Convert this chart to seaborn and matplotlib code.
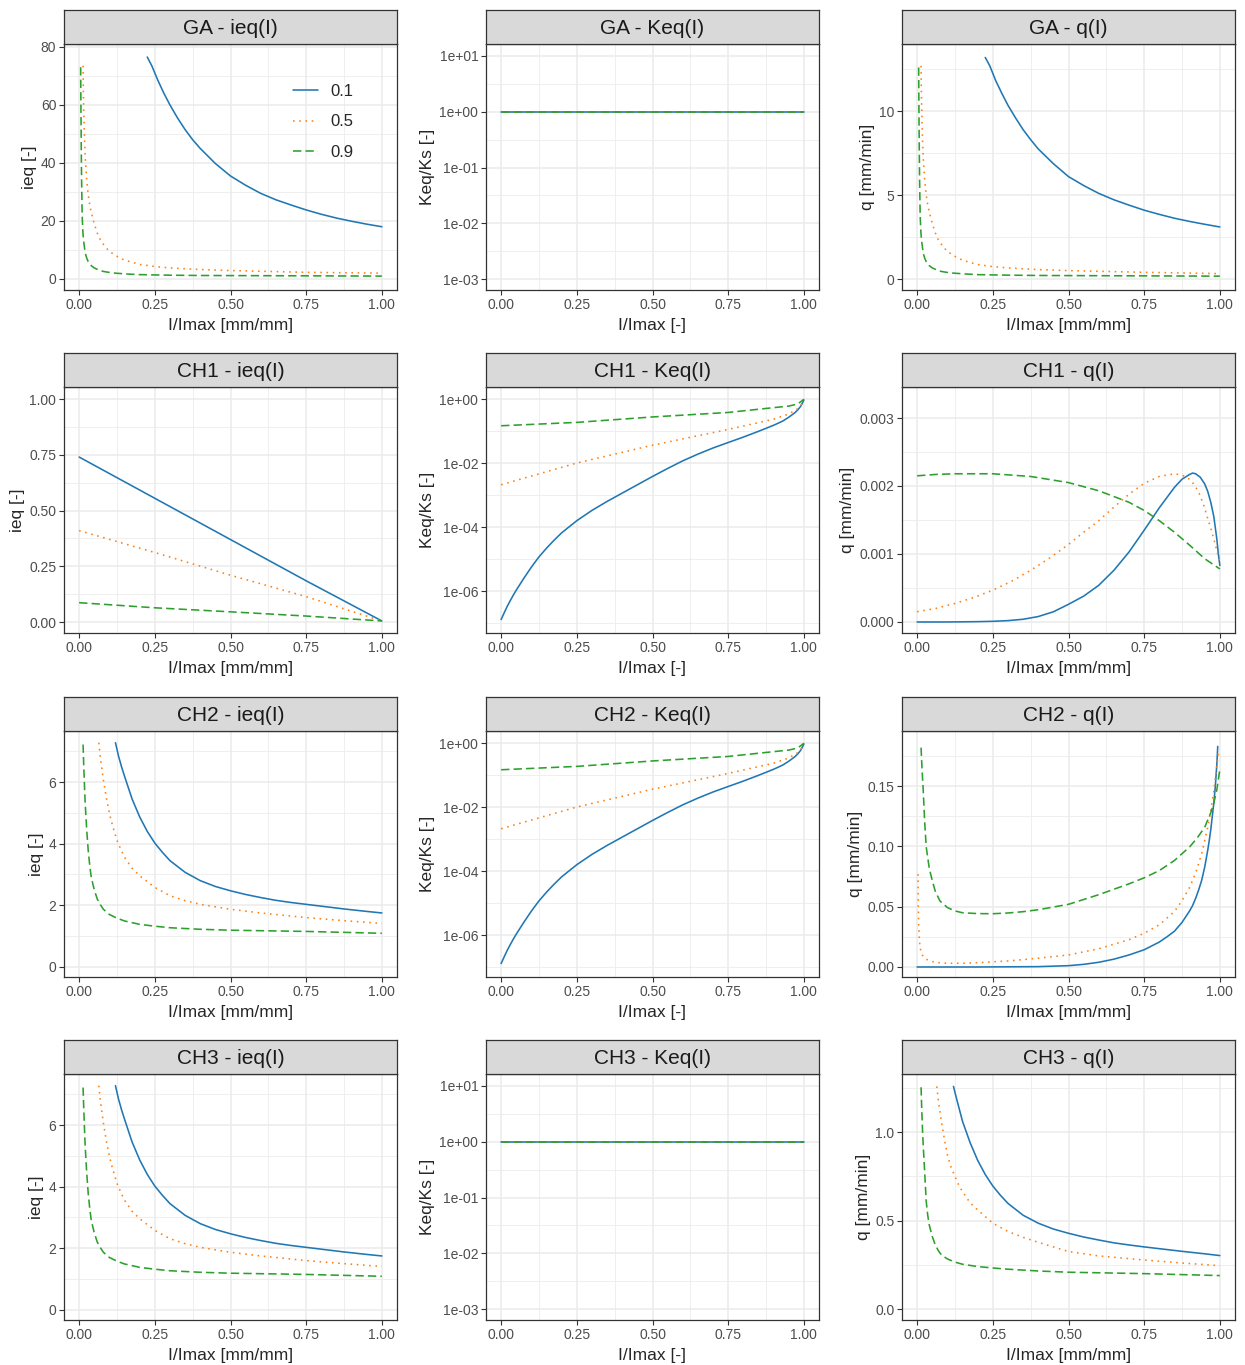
import numpy as np
import pandas as pd
import matplotlib
matplotlib.use("Agg")
import matplotlib.pyplot as plt
import seaborn as sns

sns.set_style("white")
plt.rcParams["font.family"] = ["Liberation Sans", "DejaVu Sans"]

levels = ["0.1", "0.5", "0.9"]
colors = ["#1f77b4", "#ff7f0e", "#2ca02c"]
dash_list = ["", (1, 2.9), (5.2, 2.6)]

xticks = [0.0, 0.25, 0.5, 0.75, 1.0]
xtick_labels = ["0.00", "0.25", "0.50", "0.75", "1.00"]

# GA - ieq(I)
ga_b_x = [0.225, 0.24, 0.26, 0.28, 0.3, 0.325, 0.35, 0.375, 0.4, 0.45, 0.5, 0.55, 0.6, 0.65, 0.7,
          0.75, 0.8, 0.85, 0.9, 0.95, 1.0]
ga_ieq_b_y = [76.5, 73.5, 68.5, 64, 60, 55.5, 51.5, 48, 45, 39.8, 35.5, 32.3, 29.5, 27.3, 25.5,
              23.8, 22.3, 21.0, 19.9, 18.9, 18.0]
ga_o_x = [0.013, 0.014, 0.016, 0.018, 0.02, 0.025, 0.03, 0.035, 0.04, 0.05, 0.06, 0.07, 0.085,
          0.1, 0.125, 0.15, 0.2, 0.25, 0.3, 0.4, 0.5, 0.75, 1.0]
ga_ieq_o_y = [73.5, 64, 55, 47.5, 42, 34, 29, 25.5, 23, 19, 15.8, 13.5, 11.2, 9.5, 7.8, 6.5, 5.0,
              4.3, 3.8, 3.25, 2.9, 2.3, 2.0]
ga_g_x = [0.005, 0.006, 0.007, 0.008, 0.01, 0.0125, 0.015, 0.02, 0.025, 0.03, 0.04, 0.05, 0.065,
          0.08, 0.1, 0.12, 0.16, 0.2, 0.3, 0.4, 0.7, 1.0]
ga_ieq_g_y = [73, 58, 45, 35, 22, 16, 13, 9, 7.2, 6, 4.6, 3.8, 3.1, 2.6, 2.25, 2.0, 1.7, 1.5, 1.3,
              1.2, 1.1, 1.0]

# GA / CH3 - Keq(I) (constant)
const_x = [0.0, 1.0]
const_y = [1.0, 1.0]

# GA - q(I)
ga_q_b_y = [13.2, 12.7, 11.8, 11.05, 10.35, 9.6, 8.9, 8.3, 7.75, 6.87, 6.1, 5.57, 5.1, 4.72, 4.4,
            4.1, 3.85, 3.62, 3.43, 3.26, 3.1]
ga_q_o_y = [12.7, 11.05, 9.5, 8.2, 7.25, 5.9, 5.0, 4.4, 4.0, 3.3, 2.75, 2.33, 1.94, 1.64, 1.35,
            1.12, 0.86, 0.74, 0.66, 0.56, 0.5, 0.4, 0.32]
ga_q_g_y = [12.6, 10.0, 7.8, 6.05, 3.8, 2.75, 2.25, 1.55, 1.24, 1.04, 0.8, 0.66, 0.54, 0.45, 0.39,
            0.35, 0.3, 0.26, 0.23, 0.21, 0.19, 0.17]

# CH1 - ieq(I)
ch1_ieq_x = [0.0, 0.25, 0.5, 0.75, 1.0]
ch1_ieq_b_y = [0.74, 0.555, 0.37, 0.185, 0.005]
ch1_ieq_o_y = [0.41, 0.312, 0.21, 0.114, 0.005]
ch1_ieq_g_y = [0.087, 0.064, 0.046, 0.027, 0.005]

# CH1 / CH2 - Keq(I)
keq_b_x = [0.0, 0.01, 0.02, 0.03, 0.04, 0.05, 0.075, 0.1, 0.125, 0.15, 0.175, 0.2, 0.25, 0.3, 0.35,
           0.4, 0.45, 0.5, 0.55, 0.6, 0.65, 0.7, 0.75, 0.8, 0.85, 0.9, 0.93, 0.95, 0.97, 0.98, 0.99, 1.0]
keq_b_y = [1.29e-7, 2.09e-7, 3.31e-7, 5.0e-7, 7.4e-7, 1.07e-6, 2.51e-6, 5.62e-6, 1.17e-5, 2.19e-5,
           3.89e-5, 6.61e-5, 1.58e-4, 3.31e-4, 6.31e-4, 1.15e-3, 2.09e-3, 3.8e-3, 6.76e-3, 1.17e-2,
           1.9e-2, 2.95e-2, 4.37e-2, 6.46e-2, 9.77e-2, 0.151, 0.204, 0.269, 0.37, 0.457, 0.6, 0.93]
keq_o_x = [0.0, 0.25, 0.5, 0.75, 0.9, 0.95, 0.98, 0.99, 1.0]
keq_o_y = [2.1e-3, 1.0e-2, 3.6e-2, 0.112, 0.234, 0.339, 0.50, 0.62, 0.95]
keq_g_x = [0.0, 0.25, 0.5, 0.75, 0.9, 0.95, 0.98, 1.0]
keq_g_y = [0.146, 0.186, 0.275, 0.38, 0.537, 0.60, 0.70, 0.98]

# CH1 - q(I)
ch1_q_b_x = [0.0, 0.1, 0.2, 0.25, 0.3, 0.35, 0.4, 0.45, 0.5, 0.55, 0.6, 0.65, 0.7, 0.75, 0.8, 0.85,
             0.875, 0.9, 0.91, 0.92, 0.935, 0.95, 0.96, 0.97, 0.98, 0.99, 0.995, 1.0]
ch1_q_b_y = [0.0, 0.0, 0.000005, 0.00001, 0.00002, 0.00004, 0.00008, 0.00015, 0.00026, 0.00038,
             0.00054, 0.00076, 0.00103, 0.00135, 0.00168, 0.00198, 0.0021, 0.00217, 0.00219,
             0.00218, 0.00213, 0.00203, 0.00192, 0.00176, 0.00155, 0.00122, 0.001, 0.00083]
ch1_q_o_x = [0.0, 0.0625, 0.125, 0.1875, 0.25, 0.3125, 0.375, 0.4375, 0.5, 0.55, 0.6, 0.65, 0.7,
             0.75, 0.8, 0.85, 0.875, 0.9, 0.915, 0.93, 0.945, 0.96, 0.97, 0.98, 0.99, 1.0]
ch1_q_o_y = [0.000151, 0.0002, 0.000273, 0.00036, 0.000468, 0.0006, 0.00076, 0.00094, 0.00114,
             0.00132, 0.00149, 0.00169, 0.00188, 0.00204, 0.00214, 0.00218, 0.00216, 0.0021,
             0.00202, 0.00191, 0.00174, 0.00152, 0.00138, 0.00122, 0.00105, 0.00088]
ch1_q_g_x = [0.0, 0.0625, 0.125, 0.25, 0.375, 0.5, 0.6, 0.7, 0.75, 0.8, 0.85, 0.9, 0.95, 1.0]
ch1_q_g_y = [0.00215, 0.00217, 0.00218, 0.00218, 0.00214, 0.00205, 0.00193, 0.00176, 0.00164,
             0.00149, 0.00132, 0.00113, 0.00093, 0.00078]

# CH2 / CH3 - ieq(I)
ch_b_x = [0.12, 0.13, 0.14, 0.15, 0.175, 0.2, 0.225, 0.25, 0.275, 0.3, 0.35, 0.4, 0.45, 0.5, 0.55,
          0.6, 0.65, 0.7, 0.75, 0.8, 0.875, 0.95, 1.0]
ch_ieq_b_y = [7.28, 6.85, 6.5, 6.19, 5.45, 4.87, 4.4, 4.02, 3.72, 3.45, 3.07, 2.8, 2.61, 2.47, 2.35,
              2.25, 2.16, 2.09, 2.03, 1.97, 1.88, 1.8, 1.75]
ch_o_x = [0.065, 0.07, 0.08, 0.09, 0.1, 0.11, 0.125, 0.14, 0.15, 0.175, 0.2, 0.25, 0.3, 0.35, 0.4,
          0.5, 0.6, 0.75, 0.875, 1.0]
ch_ieq_o_y = [7.28, 6.8, 6.08, 5.48, 4.98, 4.6, 4.11, 3.76, 3.56, 3.2, 2.96, 2.58, 2.31, 2.15, 2.03,
              1.87, 1.75, 1.6, 1.5, 1.41]
ch_g_x = [0.013, 0.015, 0.018, 0.02, 0.025, 0.03, 0.035, 0.04, 0.05, 0.06, 0.07, 0.08, 0.1, 0.125,
          0.15, 0.2, 0.25, 0.3, 0.4, 0.5, 0.75, 1.0]
ch_ieq_g_y = [7.22, 6.6, 5.8, 5.31, 4.45, 3.78, 3.3, 2.91, 2.5, 2.2, 2.02, 1.87, 1.7, 1.58, 1.49,
              1.38, 1.32, 1.27, 1.22, 1.19, 1.15, 1.09]

# CH2 - q(I)
ch2_q_b_x = [0.0, 0.2, 0.4, 0.5, 0.55, 0.6, 0.65, 0.7, 0.75, 0.8, 0.825, 0.85, 0.875, 0.9, 0.91,
             0.92, 0.93, 0.94, 0.95, 0.96, 0.965, 0.97, 0.975, 0.98, 0.985, 0.99, 0.993]
ch2_q_b_y = [0.0, 0.0, 0.0003, 0.0011, 0.0022, 0.0039, 0.0065, 0.010, 0.0143, 0.0207, 0.025,
             0.0297, 0.037, 0.0465, 0.051, 0.057, 0.064, 0.072, 0.083, 0.097, 0.105, 0.114, 0.125,
             0.136, 0.15, 0.168, 0.183]
ch2_q_o_x = [0.003, 0.004, 0.005, 0.0075, 0.01, 0.015, 0.02, 0.03, 0.05, 0.075, 0.1, 0.15, 0.2,
             0.3, 0.4, 0.5, 0.6, 0.7, 0.75, 0.8, 0.85, 0.875, 0.9, 0.92, 0.94, 0.95, 0.96, 0.97,
             0.98, 0.99, 0.995]
ch2_q_o_y = [0.077, 0.05, 0.035, 0.022, 0.0157, 0.011, 0.0087, 0.0064, 0.0045, 0.0035, 0.0031,
             0.0031, 0.0036, 0.005, 0.0073, 0.010, 0.0151, 0.0227, 0.028, 0.035, 0.046, 0.055,
             0.066, 0.078, 0.094, 0.105, 0.116, 0.130, 0.146, 0.167, 0.178]
ch2_q_g_x = [0.013, 0.016, 0.02, 0.025, 0.03, 0.04, 0.05, 0.06, 0.075, 0.1, 0.125, 0.15, 0.2, 0.25,
             0.3, 0.35, 0.4, 0.5, 0.6, 0.7, 0.75, 0.8, 0.85, 0.9, 0.925, 0.95, 0.97, 0.98, 0.99, 1.0]
ch2_q_g_y = [0.182, 0.165, 0.147, 0.12, 0.0996, 0.082, 0.0716, 0.0628, 0.0549, 0.0493, 0.0465,
             0.045, 0.0443, 0.0442, 0.0448, 0.0459, 0.0475, 0.052, 0.060, 0.069, 0.074, 0.080,
             0.0884, 0.0996, 0.107, 0.116, 0.128, 0.136, 0.147, 0.164]

# CH3 - q(I)
ch3_q_b_y = [1.258, 1.19, 1.125, 1.06, 0.94, 0.84, 0.76, 0.695, 0.643, 0.597, 0.53, 0.485, 0.452,
             0.428, 0.407, 0.39, 0.374, 0.362, 0.351, 0.341, 0.326, 0.312, 0.302]
ch3_q_o_y = [1.258, 1.18, 1.06, 0.96, 0.872, 0.81, 0.749, 0.69, 0.664, 0.6, 0.56, 0.485, 0.438,
             0.405, 0.377, 0.325, 0.3, 0.277, 0.26, 0.245]
ch3_q_g_y = [1.253, 1.14, 1.0, 0.928, 0.77, 0.608, 0.53, 0.475, 0.41, 0.362, 0.33, 0.306, 0.283,
             0.265, 0.253, 0.24, 0.232, 0.225, 0.215, 0.208, 0.2, 0.189]

log_ticks_ga = [1e-3, 1e-2, 1e-1, 1e0, 1e1]
log_minor_ga = [10 ** -2.5, 10 ** -1.5, 10 ** -0.5, 10 ** 0.5]
log_ticks_ch = [1e-6, 1e-4, 1e-2, 1e0]
log_minor_ch = [1e-7, 1e-5, 1e-3, 1e-1]

panels = [
    dict(title="GA - ieq(I)", series=[(ga_b_x, ga_ieq_b_y), (ga_o_x, ga_ieq_o_y), (ga_g_x, ga_ieq_g_y)],
         ylabel="ieq [-]", xlabel="I/Imax [mm/mm]", log=False, ylim=(-3.8, 81.0),
         yt=[0, 20, 40, 60, 80], ytl=["0", "20", "40", "60", "80"], ym=[10, 30, 50, 70]),
    dict(title="GA - Keq(I)", series=[(const_x, const_y)] * 3,
         ylabel="Keq/Ks [-]", xlabel="I/Imax [-]", log=True, ylim=(10 ** -3.197, 10 ** 1.215),
         yt=log_ticks_ga, ytl=["1e-03", "1e-02", "1e-01", "1e+00", "1e+01"], ym=log_minor_ga),
    dict(title="GA - q(I)", series=[(ga_b_x, ga_q_b_y), (ga_o_x, ga_q_o_y), (ga_g_x, ga_q_g_y)],
         ylabel="q [mm/min]", xlabel="I/Imax [mm/mm]", log=False, ylim=(-0.655, 14.0),
         yt=[0, 5, 10], ytl=["0", "5", "10"], ym=[2.5, 7.5, 12.5]),
    dict(title="CH1 - ieq(I)", series=[(ch1_ieq_x, ch1_ieq_b_y), (ch1_ieq_x, ch1_ieq_o_y), (ch1_ieq_x, ch1_ieq_g_y)],
         ylabel="ieq [-]", xlabel="I/Imax [mm/mm]", log=False, ylim=(-0.049, 1.054),
         yt=[0, 0.25, 0.5, 0.75, 1.0], ytl=["0.00", "0.25", "0.50", "0.75", "1.00"],
         ym=[0.125, 0.375, 0.625, 0.875]),
    dict(title="CH1 - Keq(I)", series=[(keq_b_x, keq_b_y), (keq_o_x, keq_o_y), (keq_g_x, keq_g_y)],
         ylabel="Keq/Ks [-]", xlabel="I/Imax [-]", log=True, ylim=(10 ** -7.31, 10 ** 0.375),
         yt=log_ticks_ch, ytl=["1e-06", "1e-04", "1e-02", "1e+00"], ym=log_minor_ch),
    dict(title="CH1 - q(I)", series=[(ch1_q_b_x, ch1_q_b_y), (ch1_q_o_x, ch1_q_o_y), (ch1_q_g_x, ch1_q_g_y)],
         ylabel="q [mm/min]", xlabel="I/Imax [mm/mm]", log=False, ylim=(-0.000162, 0.003456),
         yt=[0, 0.001, 0.002, 0.003], ytl=["0.000", "0.001", "0.002", "0.003"],
         ym=[0.0005, 0.0015, 0.0025]),
    dict(title="CH2 - ieq(I)", series=[(ch_b_x, ch_ieq_b_y), (ch_o_x, ch_ieq_o_y), (ch_g_x, ch_ieq_g_y)],
         ylabel="ieq [-]", xlabel="I/Imax [mm/mm]", log=False, ylim=(-0.33, 7.66),
         yt=[0, 2, 4, 6], ytl=["0", "2", "4", "6"], ym=[1, 3, 5, 7]),
    dict(title="CH2 - Keq(I)", series=[(keq_b_x, keq_b_y), (keq_o_x, keq_o_y), (keq_g_x, keq_g_y)],
         ylabel="Keq/Ks [-]", xlabel="I/Imax [-]", log=True, ylim=(10 ** -7.31, 10 ** 0.375),
         yt=log_ticks_ch, ytl=["1e-06", "1e-04", "1e-02", "1e+00"], ym=log_minor_ch),
    dict(title="CH2 - q(I)", series=[(ch2_q_b_x, ch2_q_b_y), (ch2_q_o_x, ch2_q_o_y), (ch2_q_g_x, ch2_q_g_y)],
         ylabel="q [mm/min]", xlabel="I/Imax [mm/mm]", log=False, ylim=(-0.0083, 0.1958),
         yt=[0, 0.05, 0.1, 0.15], ytl=["0.00", "0.05", "0.10", "0.15"], ym=[0.025, 0.075, 0.125, 0.175]),
    dict(title="CH3 - ieq(I)", series=[(ch_b_x, ch_ieq_b_y), (ch_o_x, ch_ieq_o_y), (ch_g_x, ch_ieq_g_y)],
         ylabel="ieq [-]", xlabel="I/Imax [mm/mm]", log=False, ylim=(-0.33, 7.66),
         yt=[0, 2, 4, 6], ytl=["0", "2", "4", "6"], ym=[1, 3, 5, 7]),
    dict(title="CH3 - Keq(I)", series=[(const_x, const_y)] * 3,
         ylabel="Keq/Ks [-]", xlabel="I/Imax [-]", log=True, ylim=(10 ** -3.197, 10 ** 1.215),
         yt=log_ticks_ga, ytl=["1e-03", "1e-02", "1e-01", "1e+00", "1e+01"], ym=log_minor_ga),
    dict(title="CH3 - q(I)", series=[(ch_b_x, ch3_q_b_y), (ch_o_x, ch3_q_o_y), (ch_g_x, ch3_q_g_y)],
         ylabel="q [mm/min]", xlabel="I/Imax [mm/mm]", log=False, ylim=(-0.062, 1.328),
         yt=[0, 0.5, 1.0], ytl=["0.0", "0.5", "1.0"], ym=[0.25, 0.75, 1.25]),
]

W, H = 1245, 1365
fig = plt.figure(figsize=(W / 100, H / 100), dpi=100)

col_left = [64, 486, 902]
panel_w = 333
panel_top = [44, 387, 731, 1074]
panel_h = 246
strip_h = 34
border = "#333333"
grid_c = "#EBEBEB"

for i, p in enumerate(panels):
    r, c = divmod(i, 3)
    left = col_left[c] / W
    bottom = 1 - (panel_top[r] + panel_h) / H
    ax = fig.add_axes([left, bottom, panel_w / W, panel_h / H])
    sax = fig.add_axes([left, 1 - panel_top[r] / H, panel_w / W, strip_h / H])

    frames = []
    for lev, (xs, ys) in zip(levels, p["series"]):
        frames.append(pd.DataFrame({"x": xs, "y": ys, "lev": lev}))
    df = pd.concat(frames, ignore_index=True)

    sns.lineplot(data=df, x="x", y="y", hue="lev", style="lev",
                 hue_order=levels, style_order=levels,
                 palette=dict(zip(levels, colors)), dashes=dict(zip(levels, dash_list)),
                 estimator=None, sort=False, lw=1.15, legend=(i == 0), ax=ax)

    if p["log"]:
        ax.set_yscale("log")
    ax.set_xticks(xticks, labels=xtick_labels)
    ax.set_xticks([0.125, 0.375, 0.625, 0.875], minor=True)
    ax.set_yticks(p["yt"], labels=p["ytl"])
    ax.set_yticks(p["ym"], minor=True)
    ax.yaxis.set_minor_formatter(matplotlib.ticker.NullFormatter())
    ax.set_xlim(-0.05, 1.05)
    ax.set_ylim(*p["ylim"])

    ax.set_axisbelow(True)
    ax.grid(which="major", color=grid_c, lw=1.1)
    ax.grid(which="minor", color=grid_c, lw=0.55)
    ax.tick_params(which="major", length=3.5, width=0.8, color=border, pad=2,
                   labelsize=10, labelcolor="#4D4D4D", left=True, bottom=True)
    ax.tick_params(which="minor", length=0)
    for s in ax.spines.values():
        s.set_color(border)
        s.set_linewidth(0.9)
    ax.set_xlabel(p["xlabel"], fontsize=12.5, labelpad=4.5)
    ax.set_ylabel(p["ylabel"], fontsize=12.5, labelpad=3)

    sax.set_facecolor("#D9D9D9")
    sax.set_xticks([])
    sax.set_yticks([])
    for s in sax.spines.values():
        s.set_color(border)
        s.set_linewidth(0.9)
    sax.text(0.5, 0.45, p["title"], ha="center", va="center", fontsize=15,
             color="#1A1A1A", transform=sax.transAxes)

    if i == 0:
        sns.move_legend(ax, "upper left", bbox_to_anchor=(0.644, 0.9), title=None,
                        frameon=False, fontsize=12, handlelength=1.5,
                        handletextpad=0.72, labelspacing=0.95)

fig.savefig("out.png", dpi=100, facecolor="white")
